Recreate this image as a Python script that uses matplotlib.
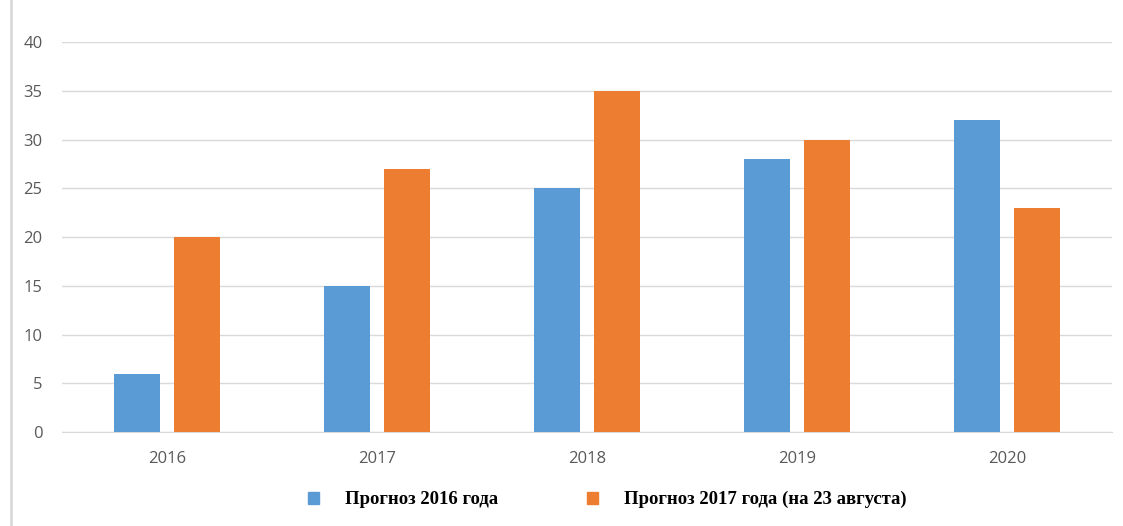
import numpy as np
import matplotlib.pyplot as plt
from matplotlib.patches import Patch
from matplotlib.lines import Line2D

years = ["2016", "2017", "2018", "2019", "2020"]
prognoz_2016 = [6, 15, 25, 28, 32]
prognoz_2017 = [20, 27, 35, 30, 23]
labels = ["Прогноз 2016 года", "Прогноз 2017 года (на 23 августа)"]

blue = "#5B9BD5"
orange = "#ED7D31"
grid_c = "#D9D9D9"
text_c = "#595959"

fig = plt.figure(figsize=(11.23, 5.26), dpi=100)
ax = fig.add_axes([0.0552, 0.1787, 0.9348, 0.7413])

x = np.arange(len(years))
w = 0.219
off = 0.143
ax.bar(x - off, prognoz_2016, w, color=blue, zorder=3)
ax.bar(x + off, prognoz_2017, w, color=orange, zorder=3)

ax.set_xlim(-0.5, len(years) - 0.5)
ax.set_ylim(0, 40)
ax.set_yticks(range(0, 41, 5))
ax.set_xticks(x)
ax.set_xticklabels(years)
ax.yaxis.grid(True, color=grid_c, linewidth=1, zorder=0)
ax.set_axisbelow(True)
for s in ["top", "right", "left"]:
    ax.spines[s].set_visible(False)
ax.spines["bottom"].set_color(grid_c)
ax.tick_params(axis="both", length=0, labelsize=12, labelcolor=text_c)
ax.tick_params(axis="y", pad=14)
ax.tick_params(axis="x", pad=14)
for t in ax.get_xticklabels() + ax.get_yticklabels():
    t.set_fontfamily("Open Sans")

# thin vertical line on the left edge of the picture
fig.add_artist(Line2D([0.0095, 0.0095], [0.0, 1.0], color=grid_c, linewidth=2))

handles = [Patch(color=blue), Patch(color=orange)]
fig.legend(handles, labels, loc="center", bbox_to_anchor=(0.541, 0.05), ncol=2,
           frameon=False, handlelength=0.59, handleheight=0.59, handletextpad=1.39,
           columnspacing=4.75, borderpad=0,
           prop={"family": "Liberation Serif", "weight": "bold", "size": 13.5})

fig.savefig("out.png", dpi=100)
